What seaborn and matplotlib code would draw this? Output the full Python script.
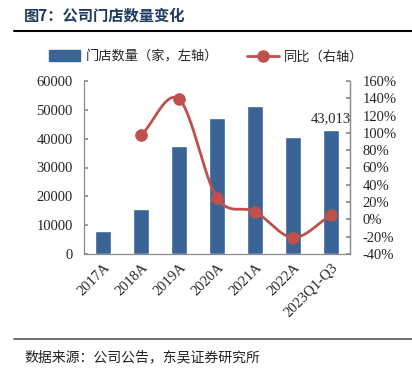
import numpy as np
import pandas as pd
import matplotlib
matplotlib.use("Agg")
import matplotlib.pyplot as plt
import seaborn as sns
from matplotlib.lines import Line2D
from matplotlib.patches import Patch

categories = ["2017A", "2018A", "2019A", "2020A", "2021A", "2022A", "2023Q1-Q3"]
stores = [7900, 15700, 37600, 47100, 51300, 40700, 43013]
yoy = [np.nan, 97, 139, 25, 9, -21, 5]
left_ticks = [0, 10000, 20000, 30000, 40000, 50000, 60000]
right_ticks = [-40, -20, 0, 20, 40, 60, 80, 100, 120, 140, 160]

sns.set_theme(style="white")
plt.rcParams['font.family'] = ['Liberation Serif', 'Noto Sans CJK SC', 'DejaVu Sans']

BAR = "#3A6495"
RED = "#C0504D"
SPINE = "#8C8C8C"

fig = plt.figure(figsize=(4.12, 3.75), dpi=100)
ax = fig.add_axes([84/412, 1-254/375, 266/412, 173/375])

df = pd.DataFrame({"cat": categories, "stores": stores, "yoy": yoy})
sns.barplot(data=df, x="cat", y="stores", color=BAR, width=0.4, ax=ax, saturation=1)
ax.set_xlim(-0.5, 6.5)
ax.set_ylim(0, 60000)
ax.set_yticks(left_ticks)
ax.set_yticklabels([str(v) for v in left_ticks], fontsize=10.5, family=['Liberation Serif'])
ax.set_xlabel("")
ax.set_ylabel("")
ax.set_xticks(range(len(categories)))
ax.set_xticklabels(categories, rotation=45, ha="right", rotation_mode="anchor",
                   fontsize=10.5, family=['Liberation Serif'])
ax.tick_params(axis="x", length=0, pad=5)
ax.tick_params(axis="y", direction="in", length=3, color=SPINE, pad=8)
ax.set_xticks(np.arange(-0.5, 7, 1), minor=True)
ax.tick_params(axis="x", which="minor", direction="in", length=3, color=SPINE)

ax.spines["top"].set_visible(False)
for s in ["left", "bottom", "right"]:
    ax.spines[s].set_color(SPINE)
    ax.spines[s].set_linewidth(0.9)

ax.text(6.0, stores[-1] + 1800, "43,013", ha="center", va="bottom", fontsize=10.5,
        family=['Liberation Serif'])

ax2 = ax.twinx()
# smooth curve (Catmull-Rom) through the yoy points
xs = np.arange(1, 7, dtype=float)
ys = np.array(yoy[1:], dtype=float)
px = np.concatenate([[2*xs[0]-xs[1]], xs, [2*xs[-1]-xs[-2]]])
py = np.concatenate([[2*ys[0]-ys[1]], ys, [2*ys[-1]-ys[-2]]])
cx, cy = [], []
for i in range(1, len(px)-2):
    t = np.linspace(0, 1, 30)
    for arr, out in ((px, cx), (py, cy)):
        p0, p1, p2, p3 = arr[i-1], arr[i], arr[i+1], arr[i+2]
        out.extend(0.5*((2*p1) + (-p0+p2)*t + (2*p0-5*p1+4*p2-p3)*t**2 + (-p0+3*p1-3*p2+p3)*t**3))
ax2.plot(cx, cy, color=RED, lw=2.0, zorder=3)
dd = df.dropna()
sns.scatterplot(x=dd.index.values, y=dd["yoy"].values, ax=ax2,
                color=RED, s=70, edgecolor=RED, zorder=4, legend=False)
ax2.set_ylim(-40, 160)
ax2.set_yticks(right_ticks)
ax2.set_yticklabels([f"{v}%" for v in right_ticks], fontsize=10.5, family=['Liberation Serif'])
ax2.set_ylabel("")
ax2.tick_params(axis="y", direction="in", length=3, color=SPINE, pad=9)
for s in ["top", "left", "bottom"]:
    ax2.spines[s].set_visible(False)
ax2.spines["right"].set_color(SPINE)
ax2.spines["right"].set_linewidth(0.9)
ax2.grid(False)
ax.grid(False)

handles = [Patch(facecolor=BAR, edgecolor=BAR),
           Line2D([0], [0], color=RED, lw=2.0, marker="o", markersize=8)]
fig.legend(handles, ["门店数量（家，左轴）", "同比（右轴）"], loc="center",
           bbox_to_anchor=(0.5, 1-57/375), ncol=2, frameon=False,
           prop={'family': ['Noto Sans CJK SC'], 'size': 9.5},
           handlelength=2.4, handleheight=0.9, columnspacing=2.2, handletextpad=0.4)

fig.text(24/412, 1-16/375, "图7：公司门店数量变化", fontsize=11, fontweight="bold",
         color="#1F3A5F", family=['Noto Sans CJK SC'], va="center")
fig.add_artist(Line2D([14/412, 1], [1-31/375, 1-31/375], color="black", lw=1.5))
fig.add_artist(Line2D([14/412, 1], [1-339/375, 1-339/375], color="#555555", lw=1.2))
fig.text(24/412, 1-357/375, "数据来源：公司公告，东吴证券研究所", fontsize=10,
         family=['Noto Sans CJK SC'], va="center", color="#222222")

fig.savefig("out.png", dpi=100)
